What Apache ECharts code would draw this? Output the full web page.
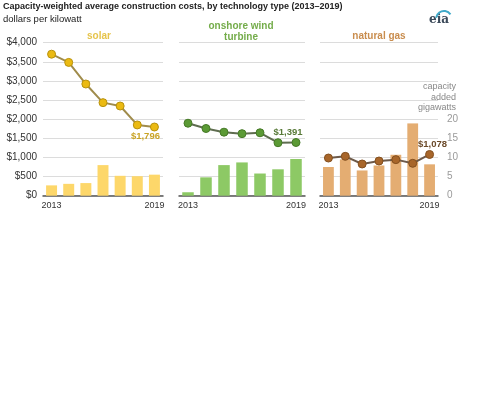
<!DOCTYPE html>
<html><head><meta charset="utf-8">
<script src="https://cdn.jsdelivr.net/npm/echarts@6/dist/echarts.min.js"></script>
<style>html,body{margin:0;padding:0;background:#fff}#c{width:500px;height:414px}</style>
</head><body><div id="c"></div>
<script>
const years = ['2013','2014','2015','2016','2017','2018','2019'];
const solarCost = [3700, 3485, 2920, 2433, 2345, 1850, 1796];
const solarCap = [2.7, 3.1, 3.3, 8.0, 5.2, 5.1, 5.5];
const windCost = [1895, 1757, 1661, 1622, 1645, 1385, 1391];
const windCap = [0.9, 4.8, 8.0, 8.7, 5.8, 6.9, 9.6];
const gasCost = [985, 1029, 829, 907, 943, 847, 1078];
const gasCap = [7.5, 9.5, 6.6, 7.9, 10.7, 18.9, 8.2];
const costTicks = [0, 4000, 500];
const capTicks = [0, 40, 5];

const FONT = '"Liberation Sans", Arial, sans-serif';
const panels = [
  {name:'solar', cost:solarCost, cap:solarCap, left:43, width:120, bar:'#fdd76a', line:'#a08c4c', mk:'#ebba12', mkb:'#b8920e', lab:'#c9a325', off:[-9,0], pos:'bottom', dist:0},
  {name:'wind', cost:windCost, cap:windCap, left:179, width:126, bar:'#8dc965', line:'#5f6d50', mk:'#5b9a35', mkb:'#467a27', lab:'#587a38', off:[-8,0], pos:'top', dist:1},
  {name:'gas', cost:gasCost, cap:gasCap, left:320, width:118, bar:'#e4ad72', line:'#6d5a4a', mk:'#a8662a', mkb:'#84501f', lab:'#6b4a2a', off:[3,0], pos:'top', dist:1}
];
const grids=[], xAxes=[], yAxes=[], series=[];
panels.forEach((p,i)=>{
  grids.push({left:p.left, width:p.width, top:42.7, height:153});
  xAxes.push({type:'category', gridIndex:i, data:years, boundaryGap:true,
    axisLine:{lineStyle:{color:'#555', width:1.5}}, axisTick:{show:false},
    axisLabel:{interval:0, margin:5, fontFamily:FONT, fontSize:9, color:'#333',
      formatter:(v,idx)=> (idx===0||idx===years.length-1)? v : ''}});
  yAxes.push({type:'value', gridIndex:i, min:costTicks[0], max:costTicks[1], interval:costTicks[2], position:'left',
    axisLine:{show:false}, axisTick:{show:false},
    splitLine:{lineStyle:{color:'#dcdcdc', width:1}},
    axisLabel:{show:i===0, margin:6, fontFamily:FONT, fontSize:10, color:'#333',
      formatter:v=>'$'+v.toLocaleString('en-US')}});
  yAxes.push({type:'value', gridIndex:i, min:capTicks[0], max:capTicks[1], interval:capTicks[2], position:'right',
    axisLine:{show:false}, axisTick:{show:false}, splitLine:{show:false},
    axisLabel:{show:i===2, margin:9, fontFamily:FONT, fontSize:10, color:'#9a9a9a',
      formatter:v=> v<=20 ? String(v) : ''}});
  series.push({type:'bar', xAxisIndex:i, yAxisIndex:2*i+1, data:p.cap, barWidth:'64%',
    itemStyle:{color:p.bar}, silent:true, z:1});
  const d = p.cost.map((v,k)=> k===p.cost.length-1 ? {value:v, label:{show:true, position:p.pos, distance:p.dist, offset:p.off,
      formatter:'$'+v.toLocaleString('en-US'), fontFamily:FONT, fontSize:9.5, fontWeight:'bold', color:p.lab}} : v);
  series.push({type:'line', xAxisIndex:i, yAxisIndex:2*i, data:d, symbol:'circle', symbolSize:8,
    lineStyle:{color:p.line, width:2}, itemStyle:{color:p.mk, borderColor:p.mkb, borderWidth:1},
    silent:true, z:3, animation:false});
});
const chart = echarts.init(document.getElementById('c'), null, {renderer:'canvas'});
chart.setOption({
  animation:false, backgroundColor:'#fff',
  grid:grids, xAxis:xAxes, yAxis:yAxes, series:series,
  graphic:[
    {type:'text', left:3, top:2, style:{text:'Capacity-weighted average construction costs, by technology type (2013–2019)', font:'bold 9px '+FONT, fill:'#222'}},
    {type:'text', left:3, top:14, style:{text:'dollars per kilowatt', font:'9.5px '+FONT, fill:'#222'}},
    {type:'text', x:99, y:31, style:{text:'solar', font:'bold 10px '+FONT, fill:'#e6c44c', align:'center'}},
    {type:'text', x:241, y:21, style:{text:'onshore wind\nturbine', font:'bold 10px '+FONT, fill:'#74ac4a', align:'center', lineHeight:11}},
    {type:'text', x:379, y:31, style:{text:'natural gas', font:'bold 10px '+FONT, fill:'#c98d4e', align:'center'}},
    {type:'text', x:456, y:81.5, style:{text:'capacity\nadded\ngigawatts', font:'9px '+FONT, fill:'#888', align:'right', lineHeight:10.5}},
    {type:'text', x:429, y:14, style:{text:'eia', font:'bold 12px "DejaVu Serif", serif', fill:'#3c4a5a'}},
    {type:'arc', shape:{cx:444, cy:19, r:8, startAngle:-Math.PI*0.95, endAngle:-Math.PI*0.2}, style:{stroke:'#3fa9c9', lineWidth:2, fill:null}}
  ]
});
</script></body></html>
